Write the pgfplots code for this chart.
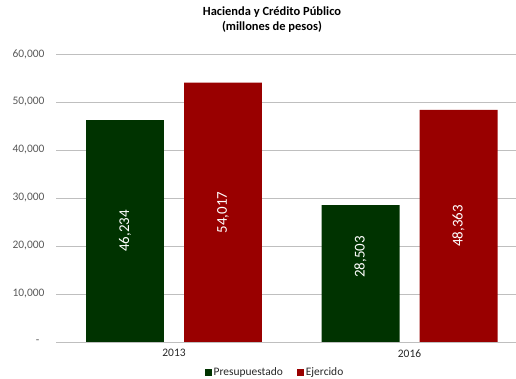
\documentclass[border=0pt]{standalone}
\usepackage{pgfplots}
\pgfplotsset{compat=1.18}
\usepackage{fontspec}
\setmainfont{Carlito}
\definecolor{bargreen}{RGB}{0,51,0}
\definecolor{barred}{RGB}{153,0,0}
\definecolor{gridgray}{RGB}{191,191,191}
\definecolor{txtgray}{RGB}{89,89,89}
\begin{document}
\begin{tikzpicture}
\path[use as bounding box] (0,0) rectangle (516bp,379bp);
\begin{axis}[
  at={(56bp,37bp)}, anchor=south west,
  scale only axis, width=460bp, height=288bp,
  xmin=-0.501, xmax=1.452, ymin=0, ymax=60000,
  xtick={0,1}, xticklabels={2013,2016},
  ytick={0,10000,20000,30000,40000,50000,60000},
  yticklabels={{-\hspace*{5bp}},{10,000},{20,000},{30,000},{40,000},{50,000},{60,000}},
  scaled y ticks=false,
  axis line style={draw=none},
  major tick length=0pt,
  ymajorgrids, grid style={gridgray, line width=0.9bp},
  yticklabel style={font=\fontsize{11.5}{13}\selectfont, text=txtgray, xshift=-8bp},
  xticklabel style={font=\fontsize{11.5}{13}\selectfont, text=black!85, yshift=-4bp},
  title={Hacienda y Crédito Público\\(millones de pesos)},
  title style={at={(axis description cs:0.4696,1.098)}, anchor=center, align=center, font=\bfseries\fontsize{12.5}{15}\selectfont},
  legend columns=2,
  legend style={at={(axis description cs:0.476,-0.106)}, anchor=center, draw=none, fill=none,
    font=\fontsize{11.5}{13}\selectfont, text=black!85, inner sep=0pt,
    /tikz/every even column/.append style={column sep=12bp}},
  legend image code/.code={\fill[#1] (0bp,-3.5bp) rectangle (7bp,3.5bp);},
]
\addplot[ybar, fill=bargreen, draw=none, bar width=0.331, bar shift=-0.208] coordinates {(0,46234) (1,28503)};
\addlegendentry{Presupuestado}
\addplot[ybar, fill=barred, draw=none, bar width=0.331, bar shift=0.208] coordinates {(0,54017) (1,48363)};
\addlegendentry{Ejercido}
% value labels inside each bar
\addplot[draw=none, mark=none, forget plot, nodes near coords, point meta=explicit symbolic,
  every node near coord/.style={rotate=90, anchor=center, text=white, inner sep=0pt, font=\fontsize{15}{18}\selectfont}]
  coordinates {(-0.208,23117)[46,234] (0.208,27008.5)[54,017] (0.792,17700)[28,503] (1.208,24181.5)[48,363]};
\end{axis}
\end{tikzpicture}
\end{document}
